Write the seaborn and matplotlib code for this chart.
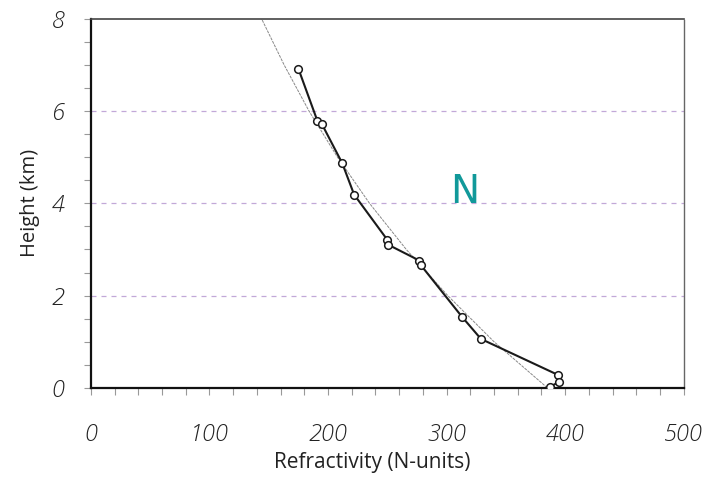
import numpy as np
import pandas as pd
import seaborn as sns
import matplotlib.pyplot as plt
from matplotlib.ticker import MultipleLocator

refractivity = [175, 191, 195, 212, 222, 250, 251, 277, 278, 313, 329, 394, 395, 387]
height_km = [6.92, 5.79, 5.71, 4.87, 4.19, 3.21, 3.10, 2.76, 2.67, 1.54, 1.06, 0.28, 0.13, 0.02]

# Reference (model) curve, read at whole km
model_height = [0, 1, 2, 3, 4, 5, 6, 7, 8]
model_n = [385, 340, 301, 266, 235, 208, 184, 163, 144]

x_ticks = [0, 100, 200, 300, 400, 500]
y_ticks = [0, 2, 4, 6, 8]
grid_levels = [2, 4, 6]

profile = pd.DataFrame({'N': refractivity, 'h': height_km})
model = pd.DataFrame({'N': model_n, 'h': model_height})

sns.set_style("white")
plt.rcParams['font.family'] = ['Open Sans', 'DejaVu Sans']

fig = plt.figure(figsize=(7.1, 4.83), dpi=100)
ax = fig.add_axes([0.128, 0.197, 0.835, 0.764])

# dashed horizontal guides
for lvl in grid_levels:
  ax.axhline(lvl, color='#c2a8d8', linestyle=(0, (4, 4)), linewidth=0.9, zorder=0)

sns.lineplot(data=model, x='N', y='h', sort=False, ax=ax, color='#888888',
             linewidth=0.7, linestyle=(0, (3, 1)), zorder=1)
sns.lineplot(data=profile, x='N', y='h', sort=False, ax=ax, color='#1a1a1a',
             linewidth=1.5, marker='o', markersize=5.5, markerfacecolor='white',
             markeredgecolor='#1a1a1a', markeredgewidth=1.1, zorder=3)

ax.text(315, 4.25, 'N', color='#11999a', fontsize=28, ha='center', va='center',
        family=['DejaVu Sans'])

ax.set_xlim(0, 500)
ax.set_ylim(0, 8)
ax.set_xticks(x_ticks)
ax.set_yticks(y_ticks)
ax.xaxis.set_minor_locator(MultipleLocator(20))
ax.yaxis.set_minor_locator(MultipleLocator(0.5))
ax.tick_params(which='both', bottom=True, left=True, direction='out',
               length=5, width=0.8, color='#999999')
ax.tick_params(axis='x', which='major', pad=20)
ax.tick_params(axis='y', which='major', pad=14)
for lab in ax.get_xticklabels() + ax.get_yticklabels():
  lab.set_fontsize(17)
  lab.set_fontstyle('italic')
  lab.set_fontweight('light')
  lab.set_color('#222222')

ax.set_xlabel('Refractivity (N-units)', fontsize=15, color='#222222', labelpad=8)
ax.set_ylabel('Height (km)', fontsize=14.5, color='#222222', labelpad=8)
ax.xaxis.set_label_coords(0.475, -0.175)

ax.spines['left'].set_linewidth(1.6)
ax.spines['bottom'].set_linewidth(1.6)
ax.spines['left'].set_color('#111111')
ax.spines['bottom'].set_color('#111111')
ax.spines['top'].set_linewidth(1.2)
ax.spines['top'].set_color('#444444')
ax.spines['right'].set_linewidth(1.0)
ax.spines['right'].set_color('#666666')
ax.spines['right'].set_linestyle((0, (1, 1)))

plt.savefig('out.png', dpi=100)
plt.close()
